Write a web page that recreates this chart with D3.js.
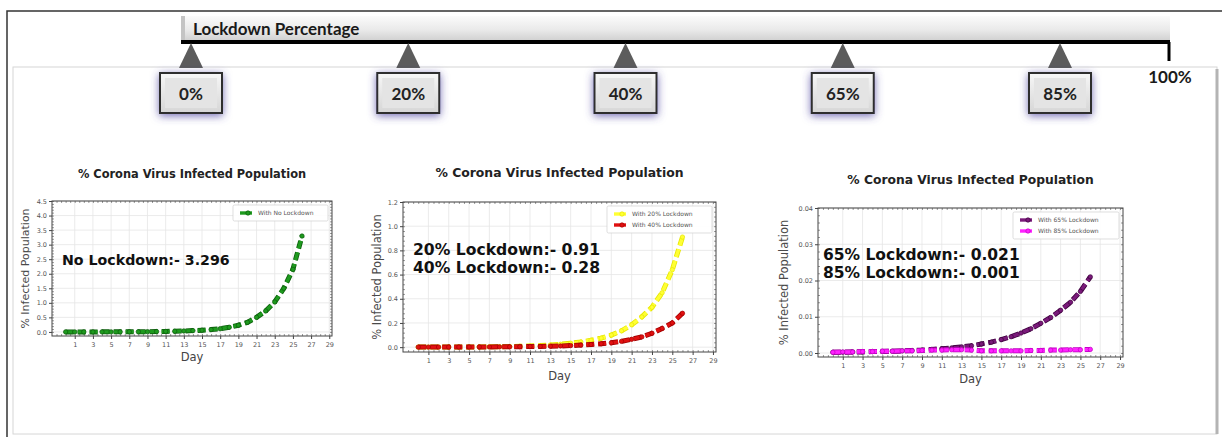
<!DOCTYPE html>
<html>
<head>
<meta charset="utf-8">
<script src="https://cdnjs.cloudflare.com/ajax/libs/d3/7.8.5/d3.min.js"></script>
<style>
body { margin:0; background:#fff; }
</style>
</head>
<body>
<div id="fig"></div>
<script>
// ---- data ----
var days = [0,1,2,3,4,5,6,7,8,9,10,11,12,13,14,15,16,17,18,19,20,21,22,23,24,25,26];
var noLockdown = [0.001,0.001,0.001,0.001,0.002,0.002,0.003,0.005,0.006,0.009,0.012,0.017,0.024,0.033,0.045,0.06,0.08,0.11,0.16,0.23,0.33,0.5,0.72,1.03,1.5,2.15,3.296];
var lock20 = [0.0004,0.0005,0.0007,0.0009,0.0012,0.0016,0.0022,0.003,0.004,0.0055,0.0075,0.01,0.013,0.018,0.024,0.032,0.043,0.057,0.075,0.1,0.135,0.185,0.25,0.33,0.45,0.64,0.91];
var lock40 = [0.0004,0.0005,0.0006,0.0008,0.001,0.0013,0.0016,0.002,0.0025,0.003,0.004,0.005,0.006,0.008,0.01,0.013,0.017,0.022,0.028,0.036,0.048,0.065,0.085,0.115,0.155,0.2,0.28];
var lock65 = [0.0002,0.0002,0.0003,0.0003,0.0004,0.0004,0.0005,0.0006,0.0007,0.0008,0.001,0.0012,0.0014,0.0017,0.002,0.0025,0.003,0.0037,0.0045,0.0055,0.0067,0.0082,0.0098,0.0118,0.014,0.017,0.021];
var lock85 = [0.0002,0.0003,0.0003,0.0004,0.0004,0.0005,0.0005,0.0006,0.0006,0.0007,0.0008,0.0008,0.0009,0.0009,0.0008,0.0006,0.0006,0.0006,0.0006,0.0006,0.0007,0.0007,0.0008,0.0008,0.0009,0.0009,0.001];
var sliderLabels = ["0%","20%","40%","65%","85%"];
var xTicks = [1,3,5,7,9,11,13,15,17,19,21,23,25,27,29];
var yTicks1 = [0,0.5,1,1.5,2,2.5,3,3.5,4,4.5];
var yTicks2 = [0,0.2,0.4,0.6,0.8,1.0,1.2];
var yTicks3 = [0,0.01,0.02,0.03,0.04];

var W = 1222, H = 437;
var svg = d3.select("#fig").append("svg")
  .attr("width", W).attr("height", H)
  .attr("xmlns", "http://www.w3.org/2000/svg");

var defs = svg.append("defs");
var bg = defs.append("linearGradient").attr("id","barGrad").attr("x1",0).attr("y1",0).attr("x2",0).attr("y2",1);
bg.append("stop").attr("offset","0%").attr("stop-color","#fbfbfb");
bg.append("stop").attr("offset","55%").attr("stop-color","#e9e9e9");
bg.append("stop").attr("offset","100%").attr("stop-color","#cdcdcd");
var kg = defs.append("linearGradient").attr("id","boxGrad").attr("x1",0).attr("y1",0).attr("x2",0).attr("y2",1);
kg.append("stop").attr("offset","0%").attr("stop-color","#f7f7f7");
kg.append("stop").attr("offset","100%").attr("stop-color","#d6d6d6");
var glow = defs.append("filter").attr("id","glow").attr("x","-50%").attr("y","-50%").attr("width","200%").attr("height","200%");
glow.append("feDropShadow").attr("dx",0).attr("dy",2).attr("stdDeviation",4)
  .attr("flood-color","#4b3f9e").attr("flood-opacity",0.75);

// outer frame and inner panel
svg.append("path").attr("d","M7,437 V11 H1222").attr("fill","none")
  .attr("stroke","#333").attr("stroke-width",1.5);
svg.append("rect").attr("x",13).attr("y",67).attr("width",1204).attr("height",367)
  .attr("fill","#fff").attr("stroke","#d6d6d6").attr("stroke-width",1);
svg.append("line").attr("x1",1217).attr("x2",1217).attr("y1",69).attr("y2",434)
  .attr("stroke","#b4b4b4").attr("stroke-width",3);

// slider
var barL = 181, barR = 1170;
svg.append("rect").attr("x",barL).attr("y",16).attr("width",barR-barL).attr("height",26)
  .attr("fill","url(#barGrad)");
svg.append("rect").attr("x",barL).attr("y",16).attr("width",4).attr("height",26).attr("fill","#c4c4c4");
svg.append("text").attr("x",193).attr("y",35)
  .style("font-family","Lato, 'Open Sans', sans-serif").style("font-weight",700).style("font-size","17px")
  .attr("fill","#1a1a1a").text("Lockdown Percentage");
svg.append("line").attr("x1",barL).attr("x2",barR).attr("y1",42).attr("y2",42)
  .attr("stroke","#000").attr("stroke-width",4);
svg.append("line").attr("x1",barR-1).attr("x2",barR-1).attr("y1",42).attr("y2",61)
  .attr("stroke","#000").attr("stroke-width",3);
svg.append("text").attr("x",barR).attr("y",83).attr("text-anchor","middle")
  .style("font-family","Lato, 'Open Sans', sans-serif").style("font-weight",700).style("font-size","17px")
  .attr("fill","#1a1a1a").text("100%");

var sx = d3.scalePoint().domain(sliderLabels).range([191, 1060]);
var marks = svg.append("g").selectAll("g").data(sliderLabels).join("g")
  .attr("transform", function(d){ return "translate(" + sx(d) + ",0)"; });
marks.append("path").attr("d","M0,43 L-12,68 L12,68 Z").attr("fill","#5c5c5c");
marks.append("rect").attr("x",-31).attr("y",73).attr("width",62).attr("height",40)
  .attr("fill","url(#boxGrad)").attr("stroke","#2e2e2e").attr("stroke-width",2)
  .attr("filter","url(#glow)");
marks.append("rect").attr("x",-26).attr("y",78).attr("width",52).attr("height",30)
  .attr("fill","#e4e4e4");
marks.append("text").attr("y",100).attr("text-anchor","middle")
  .style("font-family","Lato, 'Open Sans', sans-serif").style("font-weight",700).style("font-size","17px")
  .attr("fill","#222").text(function(d){ return d; });

// small matplotlib-like charts
var xDomain = [-1.5, 29.3];
function drawChart(c) {
  var g = svg.append("g");
  var x = d3.scaleLinear().domain(xDomain).range([c.left, c.right]);
  var y = d3.scaleLinear().domain(c.yDomain).range([c.bottom, c.top]);

  // grid
  g.append("g").selectAll("line").data(xTicks).join("line")
    .attr("x1", function(d){ return x(d); }).attr("x2", function(d){ return x(d); })
    .attr("y1", c.top).attr("y2", c.bottom)
    .attr("stroke","#e6e6e6").attr("stroke-width",0.8);
  g.append("g").selectAll("line").data(c.yTicks).join("line")
    .attr("x1", c.left).attr("x2", c.right)
    .attr("y1", function(d){ return y(d); }).attr("y2", function(d){ return y(d); })
    .attr("stroke","#e6e6e6").attr("stroke-width",0.8);

  // minor ticks, all sides, pointing in
  var xm = d3.range(-1, 29.5, 0.5);
  var ym = d3.range(0, c.yDomain[1] + c.yMinor/2, c.yMinor);
  [["axisBottom",c.bottom],["axisTop",c.top]].forEach(function(a){
    g.append("g").attr("transform","translate(0,"+a[1]+")")
      .call(d3[a[0]](x).tickValues(xm).tickSize(-2).tickFormat(""))
      .call(function(s){ s.select(".domain").remove(); s.selectAll("line").attr("stroke","#555").attr("stroke-width",0.6); });
  });
  [["axisLeft",c.left],["axisRight",c.right]].forEach(function(a){
    g.append("g").attr("transform","translate("+a[1]+",0)")
      .call(d3[a[0]](y).tickValues(ym).tickSize(-2).tickFormat(""))
      .call(function(s){ s.select(".domain").remove(); s.selectAll("line").attr("stroke","#555").attr("stroke-width",0.6); });
  });

  // major ticks + labels
  g.append("g").attr("transform","translate(0,"+c.bottom+")")
    .call(d3.axisBottom(x).tickValues(xTicks).tickSize(3).tickPadding(3))
    .call(function(s){
      s.select(".domain").remove();
      s.selectAll("line").attr("stroke","#444");
      s.selectAll("text").attr("fill","#555").style("font-family","'DejaVu Sans', sans-serif").style("font-size","6.5px");
    });
  g.append("g").attr("transform","translate("+c.left+",0)")
    .call(d3.axisLeft(y).tickValues(c.yTicks).tickSize(3).tickPadding(2).tickFormat(d3.format(c.yFmt)))
    .call(function(s){
      s.select(".domain").remove();
      s.selectAll("line").attr("stroke","#444");
      s.selectAll("text").attr("fill","#555").style("font-family","'DejaVu Sans', sans-serif").style("font-size","6.5px");
    });

  g.append("rect").attr("x",c.left).attr("y",c.top)
    .attr("width",c.right-c.left).attr("height",c.bottom-c.top)
    .attr("fill","none").attr("stroke","#444").attr("stroke-width",1);

  // series
  c.series.forEach(function(s){
    var line = d3.line().x(function(d,i){ return x(days[i]); }).y(function(d){ return y(d); });
    g.append("path").datum(s.values).attr("d", line).attr("fill","none")
      .attr("stroke", s.edge).attr("stroke-width",5).attr("stroke-dasharray","8,4");
    g.append("path").datum(s.values).attr("d", line).attr("fill","none")
      .attr("stroke", s.color).attr("stroke-width",3.4).attr("stroke-dasharray","8,4");
    g.append("g").selectAll("circle").data(s.values).join("circle")
      .attr("cx", function(d,i){ return x(days[i]); }).attr("cy", function(d){ return y(d); })
      .attr("r",2.2).attr("fill", s.color).attr("stroke", s.edge).attr("stroke-width",0.7);
  });

  // legend
  var lw = c.legendW, lh = 5 + 11*c.series.length;
  var lx = c.right - 4 - lw, ly = c.top + 4;
  g.append("rect").attr("x",lx).attr("y",ly).attr("width",lw).attr("height",lh).attr("rx",1.5)
    .attr("fill","#fff").attr("fill-opacity",0.9).attr("stroke","#d0d0d0").attr("stroke-width",0.7);
  c.series.forEach(function(s,i){
    var yy = ly + 8 + 11*i;
    g.append("line").attr("x1",lx+7).attr("x2",lx+19).attr("y1",yy).attr("y2",yy)
      .attr("stroke",s.color).attr("stroke-width",3.4);
    g.append("circle").attr("cx",lx+15).attr("cy",yy).attr("r",2.2).attr("fill",s.color).attr("stroke",s.edge).attr("stroke-width",0.7);
    g.append("text").attr("x",lx+25).attr("y",yy+2)
      .style("font-family","'DejaVu Sans', sans-serif").style("font-size","6px")
      .attr("fill","#555").text(s.name);
  });

  // annotation
  var note = g.append("text").attr("x",c.noteX).attr("y",c.noteY)
    .style("font-family","'DejaVu Sans', sans-serif").style("font-weight","bold")
    .style("font-size",c.noteSize+"px").attr("fill","#111");
  c.note.forEach(function(t,i){
    note.append("tspan").attr("x",c.noteX).attr("dy", i ? 18 : 0).text(t);
  });

  // titles and labels
  var mid = (c.left + c.right)/2;
  g.append("text").attr("x",mid).attr("y",c.titleY).attr("text-anchor","middle")
    .style("font-family","'DejaVu Sans', sans-serif").style("font-weight","bold").style("font-size",c.titleSize+"px")
    .attr("fill","#222").text("% Corona Virus Infected Population");
  g.append("text").attr("x",mid).attr("y",c.dayY).attr("text-anchor","middle")
    .style("font-family","'DejaVu Sans', sans-serif").style("font-size","11.5px")
    .attr("fill","#444").text("Day");
  g.append("text").attr("transform","translate("+c.ylabX+","+((c.top+c.bottom)/2)+") rotate(-90)")
    .attr("text-anchor","middle")
    .style("font-family","'DejaVu Sans', sans-serif").style("font-size",c.ylabSize+"px")
    .attr("fill","#4a4a4a").text("% Infected Population");
}

drawChart({
  left:52, right:332, top:201, bottom:336,
  yDomain:[-0.14, 4.5], yTicks:yTicks1, yFmt:".1f", yMinor:0.1,
  titleY:178, titleSize:11.4, dayY:361, ylabX:29, ylabSize:11,
  noteX:62, noteY:265, noteSize:14.2,
  note:["No Lockdown:- 3.296"], legendW:95,
  series:[{values:noLockdown, color:"#1e9a1e", edge:"#0b5c0b", name:"With No Lockdown"}]
});
drawChart({
  left:403, right:716, top:202, bottom:352,
  yDomain:[-0.04, 1.2], yTicks:yTicks2, yFmt:".1f", yMinor:0.04,
  titleY:177, titleSize:12.4, dayY:380, ylabX:381, ylabSize:11.5,
  noteX:413, noteY:255, noteSize:15.6,
  note:["20% Lockdown:- 0.91","40% Lockdown:- 0.28"], legendW:105,
  series:[
    {values:lock20, color:"#ffff33", edge:"#e6e600", name:"With 20% Lockdown"},
    {values:lock40, color:"#e01010", edge:"#a00000", name:"With 40% Lockdown"}
  ]
});
drawChart({
  left:818, right:1123, top:208, bottom:357,
  yDomain:[-0.0011, 0.04], yTicks:yTicks3, yFmt:".2f", yMinor:0.002,
  titleY:184, titleSize:12.3, dayY:383, ylabX:788, ylabSize:11.5,
  noteX:823, noteY:260, noteSize:15.5,
  note:["65% Lockdown:- 0.021","85% Lockdown:- 0.001"], legendW:106,
  series:[
    {values:lock65, color:"#7a1a7a", edge:"#3d003d", name:"With 65% Lockdown"},
    {values:lock85, color:"#ff22ff", edge:"#c000c0", name:"With 85% Lockdown"}
  ]
});
</script>
</body>
</html>
